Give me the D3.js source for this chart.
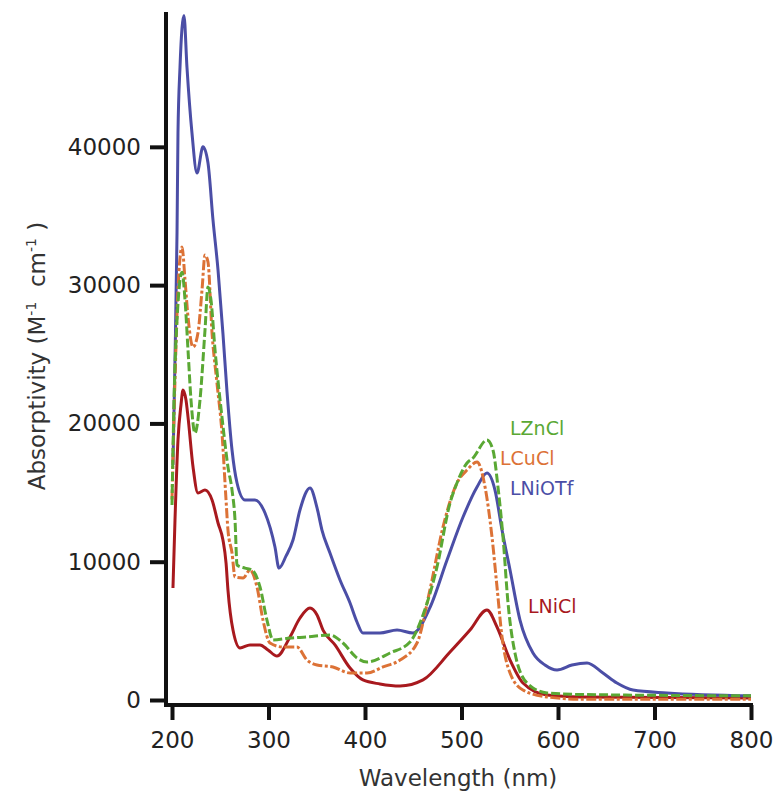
<!DOCTYPE html>
<html>
<head>
<meta charset="utf-8">
<script src="https://cdn.jsdelivr.net/npm/d3@7"></script>
<style>
	body { margin: 0; background: #fff; }
	svg { display: block; }
	.tick text { font-family: "DejaVu Sans", sans-serif; font-size: 23px; fill: #222; }
	.axis-title { font-family: "DejaVu Sans", sans-serif; font-size: 23px; fill: #333; }
	.series-label { font-family: "DejaVu Sans", sans-serif; font-size: 19px; }
</style>
</head>
<body>
<div id="chart"></div>
<script>
// spectra: [wavelength nm, absorptivity M-1 cm-1]
const LNiOTf = [
	[201, 17000], [203.1, 24600], [205.2, 33770], [206.2, 41000], [208.3, 45770], [212.4, 49500],
	[215.5, 45770], [220.7, 41000], [225.9, 38100], [232.1, 40000], [237.3, 38830], [242.5, 34700],
	[247.7, 31090], [252.8, 26500], [257, 22300], [262.2, 18080], [267.4, 15690], [275.6, 14460],
	[286, 14460], [296.4, 13520], [306.7, 11060], [310.9, 9540], [318.1, 10400], [325.4, 11570],
	[332.6, 13740], [343, 15330], [350.3, 13900], [355.4, 12290], [363.7, 10630], [374.1, 8680],
	[384.5, 7010], [391.7, 5640], [397.9, 4840], [415.5, 4840], [433.2, 5060], [449.7, 4840],
	[467.4, 6700], [485, 10120], [501.6, 13230], [516.1, 15400], [526.4, 16410], [534.7, 15180],
	[542, 12290], [550.3, 9400], [560.6, 5780], [574.1, 3400], [586.5, 2530], [599, 2170],
	[614.5, 2530], [630.1, 2680], [646.6, 1950], [661.1, 1230], [677.7, 720], [713, 510], [800, 300]
];
const LZnCl = [
	[200, 14100], [202.1, 21690], [205.2, 27470], [210.4, 30940], [213.5, 28920], [216.6, 25300],
	[219.7, 21690], [223.8, 19300], [229, 21690], [234.2, 26750], [237.3, 29860], [240.4, 28920],
	[244.6, 25300], [251.8, 20460], [258, 16850], [262.2, 15180], [265.3, 13010], [267.4, 9760],
	[275.6, 9540], [282.9, 9400], [291.2, 8170], [298.4, 5780], [304.7, 4340], [322.3, 4480],
	[339.9, 4560], [363.7, 4700], [377.2, 4120], [391.7, 3040], [402.1, 2750], [425.9, 3400],
	[446.6, 4190], [460.1, 6150], [474.6, 9620], [488.1, 14240], [495.3, 15690], [505.7, 17140],
	[511.9, 17500], [526.4, 18800], [532.6, 18080], [537.8, 15400], [543, 11790], [548.2, 7010],
	[555.4, 3400], [567.9, 1230], [588.6, 510], [622.8, 400], [800, 300]
];
const LCuCl = [
	[200, 14500], [203.1, 23140], [206.2, 29640], [210.4, 32750], [213.5, 30370], [216.6, 27690],
	[221.8, 25520], [226.9, 26530], [231.1, 29640], [234.2, 32170], [237.3, 31670], [241.5, 26530],
	[246.6, 22920], [251.8, 19300], [256, 14460], [258, 12290], [262.2, 10630], [265.3, 8890],
	[273.6, 8820], [280.8, 9400], [288.1, 8170], [294.3, 5780], [301.6, 4120], [315, 3830],
	[329.5, 3830], [339.9, 2890], [350.3, 2530], [366.8, 2390], [384.5, 1950], [402.1, 1950],
	[418.7, 2390], [436.3, 2890], [453.9, 4120], [467.4, 8000], [480.8, 12500], [495.3, 15690],
	[505.7, 16630], [516.1, 17210], [524.4, 15400], [531.6, 11790], [536.8, 8170], [542, 4560],
	[550.3, 1950], [563.7, 720], [588.6, 220], [622.8, 60], [800, 50]
];
const LNiCl = [
	[201, 8100], [203.1, 13010], [206.2, 18800], [209.3, 21330], [211.4, 22410], [214.5, 21690],
	[216.6, 20460], [221.8, 16850], [226.9, 14970], [234.2, 15180], [241.5, 14460], [247.7, 12800],
	[252.8, 11570], [256, 9910], [258, 7950], [263.2, 5060], [270.5, 3760], [280.8, 3980],
	[291.2, 3980], [299.5, 3620], [308.8, 3180], [322.3, 4560], [332.6, 5930], [343, 6650],
	[350.3, 6150], [356.5, 5060], [368.9, 3980], [384.5, 2310], [397.9, 1450], [415.5, 1160],
	[436.3, 1010], [460.1, 1450], [488.1, 3470], [508.8, 5060], [526.4, 6510], [536.8, 5280],
	[550.3, 2890], [563.7, 1230], [588.6, 360], [622.8, 220], [800, 150]
];

const xTicks = [200, 300, 400, 500, 600, 700, 800];
const yTicks = [0, 10000, 20000, 30000, 40000];

const series = [
	{ name: 'LNiCl', values: LNiCl, color: '#a8191e', dash: null, label: [528, 613] },
	{ name: 'LNiOTf', values: LNiOTf, color: '#4b4ea6', dash: null, label: [510, 495] },
	{ name: 'LCuCl', values: LCuCl, color: '#dc7236', dash: '10,2.5,3,2.5', label: [500, 465] },
	{ name: 'LZnCl', values: LZnCl, color: '#5aa834', dash: '9,3', label: [510, 435] }
];

const width = 777, height = 794;
const svg = d3.select('#chart').append('svg')
	.attr('width', width)
	.attr('height', height);

const x = d3.scaleLinear().domain([200, 800]).range([172, 751]);
const y = d3.scaleLinear().domain([0, 49750]).range([700, 12]);

const line = d3.line()
	.x(d => x(d[0]))
	.y(d => y(d[1]))
	.curve(d3.curveMonotoneX);

// curves
svg.append('g').selectAll('path')
	.data(series)
	.join('path')
	.attr('fill', 'none')
	.attr('stroke', d => d.color)
	.attr('stroke-width', 3)
	.attr('stroke-linejoin', 'round')
	.attr('stroke-dasharray', d => d.dash)
	.attr('d', d => line(d.values));

// axes (offset igor-style: x axis sits a bit below zero)
const axisY = 166, axisX = 705;

const yAxis = svg.append('g')
	.attr('transform', 'translate(' + axisY + ',0)')
	.call(d3.axisLeft(y).tickValues(yTicks).tickFormat(d3.format('d')).tickSize(16).tickPadding(9));
yAxis.select('.domain').remove();

const xAxis = svg.append('g')
	.attr('transform', 'translate(0,' + axisX + ')')
	.call(d3.axisBottom(x).tickValues(xTicks).tickFormat(d3.format('d')).tickSize(15).tickPadding(12));
xAxis.select('.domain').remove();

svg.selectAll('.tick line').attr('stroke', '#111').attr('stroke-width', 4);

svg.append('line')
	.attr('x1', axisY).attr('x2', axisY)
	.attr('y1', y.range()[1]).attr('y2', axisX + 2)
	.attr('stroke', '#111').attr('stroke-width', 4);
svg.append('line')
	.attr('x1', axisY - 2).attr('x2', x(800) + 2)
	.attr('y1', axisX).attr('y2', axisX)
	.attr('stroke', '#111').attr('stroke-width', 4);

// titles
svg.append('text')
	.attr('class', 'axis-title')
	.attr('x', 458).attr('y', 786)
	.attr('text-anchor', 'middle')
	.text('Wavelength (nm)');

const yt = svg.append('text')
	.attr('class', 'axis-title')
	.attr('transform', 'translate(45,356) rotate(-90)')
	.attr('text-anchor', 'middle')
	.attr('xml:space', 'preserve');
yt.append('tspan').text('Absorptivity (M');
yt.append('tspan').attr('dy', -9).attr('font-size', 14).text('-1');
yt.append('tspan').attr('dy', 9).text('  cm');
yt.append('tspan').attr('dy', -9).attr('font-size', 14).text('-1');
yt.append('tspan').attr('dy', 9).text(' )');

// series labels
svg.append('g').selectAll('text')
	.data(series)
	.join('text')
	.attr('class', 'series-label')
	.attr('x', d => d.label[0])
	.attr('y', d => d.label[1])
	.attr('fill', d => d.color)
	.text(d => d.name);
</script>
</body>
</html>
